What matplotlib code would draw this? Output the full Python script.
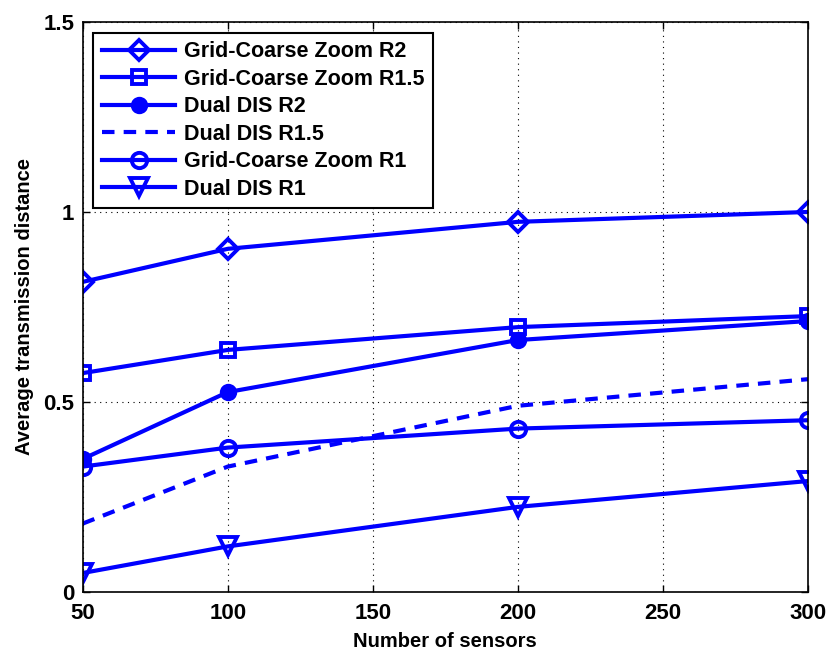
import matplotlib.pyplot as plt

sensors = [50, 100, 200, 300]
gcz_r2 = [0.816, 0.903, 0.974, 1.0]
gcz_r15 = [0.576, 0.637, 0.697, 0.726]
dual_r2 = [0.350, 0.526, 0.663, 0.713]
dual_r15 = [0.180, 0.330, 0.490, 0.560]
gcz_r1 = [0.330, 0.380, 0.430, 0.452]
dual_r1 = [0.050, 0.120, 0.224, 0.292]

plt.rcParams['font.family'] = ['Liberation Sans', 'DejaVu Sans']
plt.rcParams['font.weight'] = 'bold'

fig = plt.figure(figsize=(8.27, 6.53), dpi=100)
ax = fig.add_axes([0.100, 0.0934, 0.877, 0.873])

blue = '#0000ff'
lw = 3
ax.plot(sensors, gcz_r2, color=blue, lw=lw, marker='D', ms=10, mfc='none', mew=2.8,
        label='Grid-Coarse Zoom R2')
ax.plot(sensors, gcz_r15, color=blue, lw=lw, marker='s', ms=9.5, mfc='none', mew=2.8,
        label='Grid-Coarse Zoom R1.5')
ax.plot(sensors, dual_r2, color=blue, lw=lw, marker='o', ms=10, mfc=blue, mew=2.5,
        label='Dual DIS R2')
ax.plot(sensors, dual_r15, color=blue, lw=lw, ls=(0, (3, 2.2)), label='Dual DIS R1.5')
ax.plot(sensors, gcz_r1, color=blue, lw=lw, marker='o', ms=11, mfc='none', mew=2.8,
        label='Grid-Coarse Zoom R1')
ax.plot(sensors, dual_r1, color=blue, lw=lw, marker='v', ms=12.5, mfc='none', mew=2.8,
        label='Dual DIS R1')

ax.set_xlim(50, 300)
ax.set_ylim(0, 1.5)
ax.set_xticks([50, 100, 150, 200, 250, 300])
ax.set_yticks([0, 0.5, 1, 1.5])
ax.set_yticklabels(['0', '0.5', '1', '1.5'])
ax.tick_params(direction='in', labelsize=16, width=1, length=5, top=True, right=True)
ax.tick_params(axis='x', pad=8)
ax.tick_params(axis='y', pad=6)
for lab in ax.get_xticklabels() + ax.get_yticklabels():
    lab.set_fontweight('bold')
ax.grid(True, color='black', ls=(0, (1, 4)), lw=0.8)
for s in ax.spines.values():
    s.set_linewidth(1.2)

ax.set_xlabel('Number of sensors', fontsize=14.5, fontweight='bold', labelpad=6)
ax.set_ylabel('Average transmission distance', fontsize=14.5, fontweight='bold', labelpad=7)

leg = ax.legend(loc='upper left', handlelength=3.4, frameon=True, fancybox=False,
                borderaxespad=0.5, labelspacing=0.3, handletextpad=0.4,
                prop={'weight': 'bold', 'size': 15.5})
leg.get_frame().set_edgecolor('black')
leg.get_frame().set_linewidth(1.5)
leg.get_frame().set_alpha(1)

fig.savefig('out.png', dpi=100)
